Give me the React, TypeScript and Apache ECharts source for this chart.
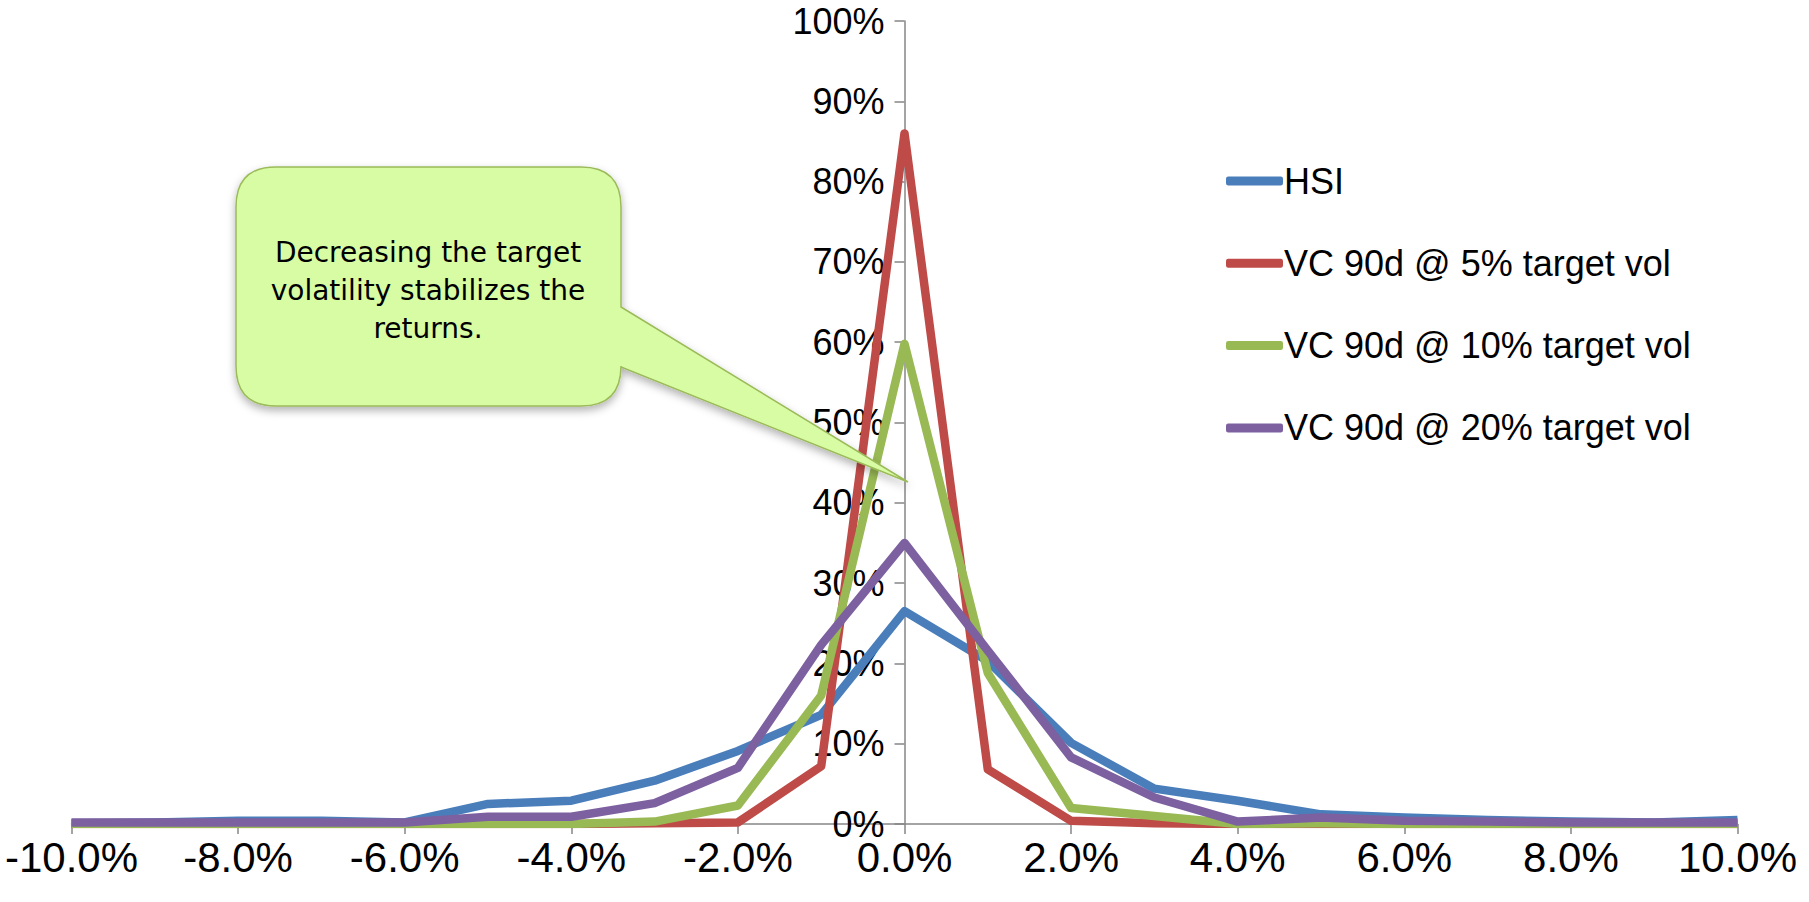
import React, { useEffect, useRef } from "react";
import * as echarts from "echarts";

// Daily return buckets (%)
const returnBuckets = [-10, -9, -8, -7, -6, -5, -4, -3, -2, -1, 0, 1, 2, 3, 4, 5, 6, 7, 8, 9, 10];

const seriesNames = [
  "HSI",
  "VC 90d @ 5% target vol",
  "VC 90d @ 10% target vol",
  "VC 90d @ 20% target vol",
];

// Frequency (%) per bucket
const hsi = [0.1, 0.2, 0.4, 0.4, 0.2, 2.5, 2.9, 5.4, 9.1, 13.6, 26.5, 20.3, 10.1, 4.4, 2.9, 1.2, 0.8, 0.5, 0.3, 0.2, 0.5];
const vc5 = [0, 0, 0, 0, 0, 0, 0, 0.1, 0.2, 7.2, 86, 6.8, 0.4, 0.1, 0, 0, 0, 0, 0, 0, 0];
const vc10 = [0, 0, 0, 0, 0, 0, 0, 0.3, 2.3, 16.0, 59.8, 18.8, 2.0, 1.0, 0, 0.1, 0, 0, 0, 0, 0];
const vc20 = [0.2, 0.2, 0.2, 0.2, 0.2, 0.9, 0.9, 2.6, 7.0, 22.3, 35, 21.6, 8.3, 3.3, 0.3, 0.8, 0.4, 0.3, 0.2, 0.2, 0.2];

const seriesValues = [hsi, vc5, vc10, vc20];
const seriesColors = ["#4a7ebb", "#be4b48", "#98b954", "#7d60a0"];

const calloutText = "Decreasing the target\nvolatility stabilizes the\nreturns.";

// callout geometry (pixels)
const L = 236, R = 621, T = 167, B = 406, RAD = 40;
const PY1 = 307, PY2 = 367, TIPX = 908, TIPY = 482;
const calloutPath =
  `M ${L + RAD} ${T} L ${R - RAD} ${T} Q ${R} ${T} ${R} ${T + RAD} L ${R} ${PY1} L ${TIPX} ${TIPY} L ${R} ${PY2} ` +
  `L ${R} ${B - RAD} Q ${R} ${B} ${R - RAD} ${B} L ${L + RAD} ${B} Q ${L} ${B} ${L} ${B - RAD} L ${L} ${T + RAD} Q ${L} ${T} ${L + RAD} ${T} Z`;

const GRID_LEFT = 71.5;
const GRID_RIGHT = 71.5;
const CHART_W = 1809;

export default function App() {
  const ref = useRef<HTMLDivElement>(null);
  useEffect(() => {
    const el = ref.current;
    if (!el) return;
    echarts.graphic.registerShape("callout", echarts.graphic.extendPath(calloutPath, {}));
    const chart = echarts.init(el, null, { renderer: "svg" });
    const axisGrey = "#868686";
    const plotW = CHART_W - GRID_LEFT - GRID_RIGHT;
    chart.setOption({
      animation: false,
      backgroundColor: "#ffffff",
      grid: {
        left: GRID_LEFT,
        right: GRID_RIGHT,
        top: 21,
        bottom: 78,
        containLabel: false,
        outerBoundsMode: "none",
      },
      xAxis: {
        type: "value",
        min: -10,
        max: 10,
        interval: 2,
        axisLine: { show: true, onZero: true, lineStyle: { color: axisGrey, width: 1.5 } },
        axisTick: { show: true, inside: false, length: 10, lineStyle: { color: axisGrey, width: 1.5 } },
        splitLine: { show: false },
        axisLabel: {
          formatter: (v: number) => v.toFixed(1) + "%",
          fontSize: 42,
          lineHeight: 34,
          color: "#000",
          fontFamily: "Liberation Sans, Arial, sans-serif",
          margin: 16,
        },
      },
      yAxis: {
        type: "value",
        position: "left",
        offset: -plotW / 2,
        min: 0,
        max: 100,
        interval: 10,
        axisLine: { show: true, onZero: false, lineStyle: { color: axisGrey, width: 1.5 } },
        axisTick: { show: true, inside: false, length: 10, lineStyle: { color: axisGrey, width: 1.5 } },
        splitLine: { show: false },
        axisLabel: {
          formatter: "{value}%",
          fontSize: 36,
          lineHeight: 28,
          color: "#000",
          fontFamily: "Liberation Sans, Arial, sans-serif",
          margin: 20,
        },
      },
      legend: {
        orient: "vertical",
        left: 1226,
        top: 163,
        padding: 0,
        icon: "roundRect",
        itemWidth: 57,
        itemHeight: 9,
        itemGap: 46.3,
        data: seriesNames,
        textStyle: {
          fontSize: 36,
          color: "#000",
          fontFamily: "Liberation Sans, Arial, sans-serif",
          padding: [0, 0, 0, -4],
        },
      },
      series: seriesNames.map((name, i) => ({
        name,
        type: "line",
        symbol: "none",
        color: seriesColors[i],
        lineStyle: { width: 8.5, color: seriesColors[i], join: "round" },
        data: returnBuckets.map((x, k) => [x, seriesValues[i][k]]),
        z: 2 + i,
      })),
      graphic: [
        {
          type: "callout",
          x: 0,
          y: 0,
          z: 100,
          style: {
            fill: "#d8fca4",
            stroke: "#9bbb59",
            lineWidth: 1.5,
            shadowBlur: 8,
            shadowOffsetY: 4,
            shadowColor: "rgba(0,0,0,0.3)",
          },
        },
        {
          type: "text",
          x: 428,
          y: 290,
          z: 101,
          style: {
            text: calloutText,
            align: "center",
            verticalAlign: "middle",
            fontSize: 28,
            lineHeight: 38,
            fontFamily: "DejaVu Sans, sans-serif",
            fill: "#000",
          },
        },
      ],
    });
    return () => chart.dispose();
  }, []);
  return (
    <div
      ref={ref}
      style={{ position: "fixed", left: 0, top: 0, width: 1809, height: 902, background: "#fff" }}
    />
  );
}
